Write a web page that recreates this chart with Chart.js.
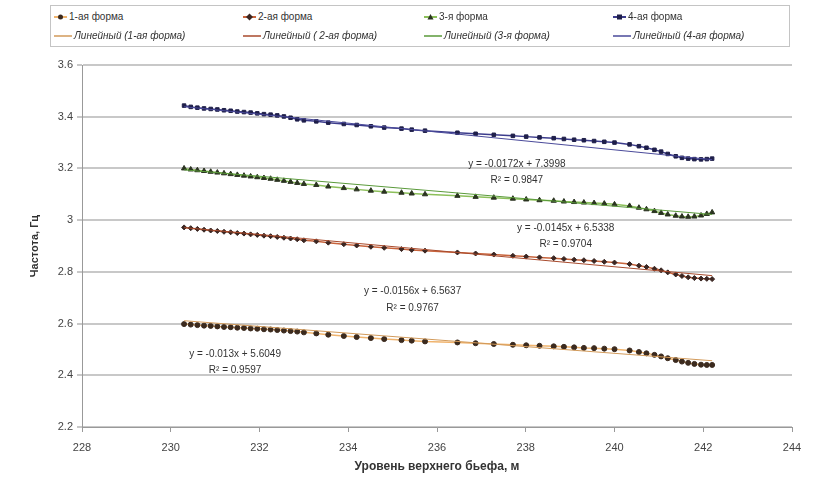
<!DOCTYPE html>
<html>
<head>
<meta charset="utf-8">
<script src="https://cdn.jsdelivr.net/npm/chart.js@4.4.0/dist/chart.umd.min.js"></script>
<style>
body { margin: 0; background: #fff; font-family: "Liberation Sans", Arial, sans-serif; }
#wrap { position: relative; width: 818px; height: 482px; }
#legend { position: absolute; left: 50px; top: 5px; width: 740px; height: 42px; border: 1px solid #c4c4c4; box-sizing: border-box; background: #fff;
  display: grid; grid-template-columns: 189px 181px 189px 178px; grid-template-rows: 19px 19px; padding: 1px 0 0 3px; font-size: 10px; color: #333; }
#legend div { display: flex; align-items: center; white-space: nowrap; }
#legend svg { margin-right: 2px; }
#legend .tr { font-style: italic; }
</style>
</head>
<body>
<div id="wrap">
  <canvas id="grafico" width="818" height="482"></canvas>
  <div id="legend"></div>
</div>
<script>
// уровень верхнего бьефа, м
var levels = [230.3, 230.45, 230.6, 230.75, 230.9, 231.05, 231.2, 231.35, 231.5, 231.65, 231.8, 231.95, 232.1, 232.25, 232.4, 232.55, 232.7, 232.85, 233.0,
  233.28, 233.55, 233.9, 234.19, 234.51, 234.81, 235.2, 235.43, 235.73, 236.46, 236.87, 237.28, 237.71, 238.01, 238.31, 238.63, 238.86, 239.09, 239.31, 239.54, 239.77, 240.0,
  240.34, 240.55, 240.72, 240.9, 241.05, 241.2, 241.38, 241.52, 241.66, 241.8, 241.95, 242.08, 242.2];

// частоты, Гц
var form1 = [2.598, 2.596, 2.594, 2.592, 2.591, 2.589, 2.587, 2.586, 2.584, 2.583, 2.581, 2.580, 2.578, 2.577, 2.575, 2.573, 2.571, 2.569, 2.566,
  2.562, 2.557, 2.552, 2.548, 2.544, 2.540, 2.536, 2.534, 2.531, 2.527, 2.524, 2.521, 2.518, 2.516, 2.514, 2.512, 2.510, 2.508, 2.506, 2.505, 2.503, 2.501,
  2.496, 2.490, 2.485, 2.479, 2.473, 2.466, 2.459, 2.453, 2.448, 2.444, 2.441, 2.440, 2.440];
var form2 = [2.972, 2.969, 2.966, 2.963, 2.960, 2.958, 2.955, 2.953, 2.950, 2.948, 2.945, 2.943, 2.940, 2.938, 2.935, 2.932, 2.929, 2.926, 2.922,
  2.918, 2.913, 2.907, 2.902, 2.897, 2.893, 2.888, 2.885, 2.882, 2.875, 2.871, 2.867, 2.862, 2.859, 2.856, 2.853, 2.850, 2.847, 2.845, 2.842, 2.839, 2.836,
  2.830, 2.824, 2.819, 2.812, 2.806, 2.798, 2.790, 2.784, 2.779, 2.776, 2.774, 2.773, 2.772];
var form3 = [3.200, 3.196, 3.193, 3.190, 3.187, 3.184, 3.181, 3.178, 3.175, 3.172, 3.169, 3.166, 3.163, 3.160, 3.156, 3.152, 3.148, 3.144, 3.140,
  3.136, 3.130, 3.124, 3.119, 3.114, 3.110, 3.106, 3.103, 3.100, 3.094, 3.090, 3.087, 3.083, 3.080, 3.077, 3.075, 3.072, 3.070, 3.068, 3.066, 3.064, 3.061,
  3.055, 3.048, 3.042, 3.035, 3.028, 3.022, 3.017, 3.014, 3.013, 3.014, 3.018, 3.024, 3.030];
var form4 = [3.443, 3.438, 3.435, 3.432, 3.430, 3.428, 3.425, 3.423, 3.420, 3.418, 3.416, 3.413, 3.410, 3.408, 3.405, 3.401, 3.396, 3.390, 3.386,
  3.382, 3.377, 3.372, 3.368, 3.363, 3.358, 3.354, 3.350, 3.346, 3.338, 3.334, 3.330, 3.326, 3.323, 3.320, 3.317, 3.314, 3.311, 3.309, 3.306, 3.303, 3.300,
  3.293, 3.286, 3.280, 3.272, 3.265, 3.256, 3.247, 3.241, 3.238, 3.236, 3.235, 3.236, 3.238];

var seriesNames = ['1-ая форма', '2-ая форма', '3-я форма', '4-ая форма'];
var trendNames = ['Линейный (1-ая форма)', 'Линейный ( 2-ая форма)', 'Линейный (3-я форма)', 'Линейный (4-ая форма)'];
var slopes = [-0.013, -0.0156, -0.0145, -0.0172];
var intercepts = [5.6049, 6.5637, 6.5338, 7.3998];
var rSquared = ['0.9597', '0.9767', '0.9704', '0.9847'];

var lineColors = ['#f0b46e', '#c8643c', '#8cbf5a', '#3c3c8c'];
var markColors = ['#3b2a1e', '#3a2622', '#2a3320', '#1f1f4a'];
var trendColors = ['#d29a5a', '#a84a2c', '#5a9a3a', '#4a4a9a'];
var pointStyles = ['circle', 'rectRot', 'triangle', 'rect'];

// где стоят подписи уравнений (x, y уравнения, y R²)
var eqPos = [[231.45, 2.482, 2.420], [235.45, 2.725, 2.660], [238.9, 2.969, 2.907], [237.8, 3.217, 3.155]];

var allForms = [form1, form2, form3, form4];
var datasets = [];

for (var k = 0; k < 4; k++) {
    var pts = [];
    for (var i = 0; i < levels.length; i++) {
        pts.push({ x: levels[i], y: allForms[k][i] });
    }
    datasets.push({
        label: seriesNames[k],
        data: pts,
        showLine: true,
        borderColor: lineColors[k],
        borderWidth: 1.5,
        pointStyle: pointStyles[k],
        pointRadius: k == 2 ? 3 : 2.5,
        pointBackgroundColor: markColors[k],
        pointBorderColor: markColors[k],
        pointBorderWidth: 1,
        order: 2
    });
}

for (var k = 0; k < 4; k++) {
    var x0 = levels[0], x1 = levels[levels.length - 1];
    datasets.push({
        label: trendNames[k],
        data: [{ x: x0, y: slopes[k] * x0 + intercepts[k] }, { x: x1, y: slopes[k] * x1 + intercepts[k] }],
        showLine: true,
        borderColor: trendColors[k],
        borderWidth: 1,
        pointRadius: 0,
        order: 1
    });
}

function eqText(k) {
    return 'y = ' + slopes[k] + 'x + ' + intercepts[k];
}

var eqPlugin = {
    id: 'eqLabels',
    afterDatasetsDraw: function (chart) {
        var ctx = chart.ctx, xs = chart.scales.x, ys = chart.scales.y;
        ctx.save();
        ctx.font = '10px "Liberation Sans", Arial, sans-serif';
        ctx.fillStyle = '#333';
        ctx.textAlign = 'center';
        ctx.textBaseline = 'middle';
        for (var k = 0; k < 4; k++) {
            var p = eqPos[k];
            ctx.fillText(eqText(k), xs.getPixelForValue(p[0]), ys.getPixelForValue(p[1]));
            ctx.fillText('R\u00B2 = ' + rSquared[k], xs.getPixelForValue(p[0]), ys.getPixelForValue(p[2]));
        }
        ctx.restore();
    }
};

var chart = new Chart(document.getElementById('grafico'), {
    type: 'scatter',
    data: { datasets: datasets },
    plugins: [eqPlugin],
    options: {
        responsive: false,
        animation: false,
        devicePixelRatio: 1,
        layout: { padding: { top: 65, right: 26, left: 0, bottom: 0 } },
        plugins: { legend: { display: false }, tooltip: { enabled: false } },
        scales: {
            x: {
                type: 'linear', min: 228, max: 244,
                ticks: { stepSize: 2, color: '#444', font: { size: 11, family: '"Liberation Sans", Arial' }, padding: 9 },
                grid: { drawOnChartArea: false, drawTicks: true, tickLength: 5, color: '#999' },
                border: { color: '#999' },
                title: { display: true, text: 'Уровень верхнего бьефа, м', color: '#333',
                    font: { size: 12, weight: 'bold', family: '"Liberation Sans", Arial' }, padding: { top: 2, bottom: 8 } },
                afterFit: function (s) { s.height = 55; }
            },
            y: {
                min: 2.2, max: 3.6,
                ticks: { stepSize: 0.2, color: '#444', font: { size: 11, family: '"Liberation Sans", Arial' }, padding: 4,
                    callback: function (v) { return String(parseFloat(v.toFixed(1))); } },
                grid: { color: '#c8c8c8', lineWidth: 2, tickLength: 5 },
                border: { color: '#999' },
                title: { display: true, text: 'Частота, Гц', color: '#333',
                    font: { size: 11, weight: 'bold', family: '"Liberation Sans", Arial' }, padding: { top: 28, bottom: 0 } },
                afterFit: function (s) { s.width = 82; }
            }
        }
    }
});

// легенда
function sample(k, trend) {
    var s;
    if (trend) {
        s = '<svg width="18" height="10"><line x1="0" y1="5" x2="18" y2="5" stroke="' + trendColors[k] + '" stroke-width="1.5"/>';
    } else {
        s = '<svg width="13" height="10"><line x1="0" y1="5" x2="13" y2="5" stroke="' + lineColors[k] + '" stroke-width="2"/>';
        var c = markColors[k];
        if (k == 0) s += '<circle cx="6.5" cy="5" r="2.5" fill="' + c + '"/>';
        if (k == 1) s += '<polygon points="6.5,1.5 10,5 6.5,8.5 3,5" fill="' + c + '"/>';
        if (k == 2) s += '<polygon points="6.5,2 9.5,7.5 3.5,7.5" fill="' + c + '"/>';
        if (k == 3) s += '<rect x="4" y="2.5" width="5" height="5" fill="' + c + '"/>';
    }
    return s + '</svg>';
}

var html = '';
for (var k = 0; k < 4; k++) html += '<div>' + sample(k, false) + '<span>' + seriesNames[k] + '</span></div>';
for (var k = 0; k < 4; k++) html += '<div class="tr">' + sample(k, true) + '<span>' + trendNames[k] + '</span></div>';
document.getElementById('legend').innerHTML = html;
</script>
</body>
</html>
